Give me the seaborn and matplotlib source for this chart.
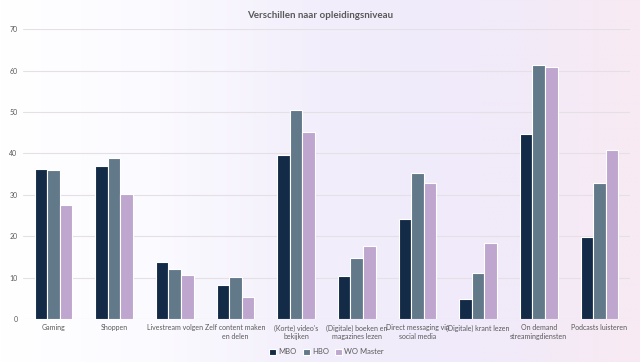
import numpy as np
import pandas as pd
import seaborn as sns
import matplotlib.pyplot as plt
from matplotlib.colors import LinearSegmentedColormap

categories = ["Gaming", "Shoppen", "Livestream volgen", "Zelf content maken\nen delen",
              "(Korte) video's\nbekijken", "(Digitale) boeken en\nmagazines lezen",
              "Direct messaging via\nsocial media", "(Digitale) krant lezen",
              "On demand\nstreamingdiensten", "Podcasts luisteren"]
mbo = [36.3, 36.9, 13.7, 8.2, 39.6, 10.4, 24.2, 4.8, 44.7, 19.9]
hbo = [35.9, 38.9, 12.0, 10.2, 50.5, 14.8, 35.2, 11.0, 61.3, 32.9]
wo = [27.5, 30.3, 10.6, 5.4, 45.1, 17.7, 32.8, 18.3, 61.0, 40.8]
groups = ["MBO", "HBO", "WO Master"]
colors = ["#0a2b50", "#5b7a91", "#bf9fd5"]

df = pd.DataFrame({"cat": categories * 3,
                   "groep": np.repeat(groups, len(categories)),
                   "waarde": mbo + hbo + wo})

sns.set_style("white")
plt.rcParams["font.family"] = ["Lato", "DejaVu Sans"]

fig = plt.figure(figsize=(6.4, 3.62), dpi=100)

#==================
#Background gradient
#==================
bg = fig.add_axes([0, 0, 1, 1], zorder=-1)
cmap = LinearSegmentedColormap.from_list("bg", ["#ffffff", "#fbfaff", "#f2eefb", "#f0eafa", "#f8eaf3"])
grad = np.tile(np.linspace(0, 1, 256), (10, 1))
bg.imshow(grad, aspect="auto", cmap=cmap, extent=[0, 1, 0, 1])
bg.axis("off")

ax = fig.add_axes([0.036, 0.119, 0.948, 0.80])
ax.patch.set_alpha(0)
sns.barplot(data=df, x="cat", y="waarde", hue="groep", palette=colors,
            width=0.62, edgecolor="white", linewidth=0.8, ax=ax, zorder=3)

ax.set_ylim(0, 70)
ax.set_yticks(range(0, 71, 10))
ax.set_xlim(-0.5, len(categories) - 0.5)
ax.yaxis.grid(True, color="#e4e0e6", linewidth=0.8, zorder=0)
for s in ax.spines.values():
    s.set_visible(False)
ax.tick_params(axis="both", length=0, labelsize=5, labelcolor="#595959", pad=4)
ax.set_xlabel("")
ax.set_ylabel("")

fig.text(0.5, 0.958, "Verschillen naar opleidingsniveau", ha="center", va="center",
         fontsize=7, fontweight="bold", color="#595959")

ax.legend(loc="center", bbox_to_anchor=(0.5, -0.114), ncol=3, frameon=False,
          fontsize=5.5, labelcolor="#595959", handlelength=0.9, handleheight=0.9,
          handletextpad=0.3, columnspacing=0.8)

plt.savefig("out.png", dpi=100)
